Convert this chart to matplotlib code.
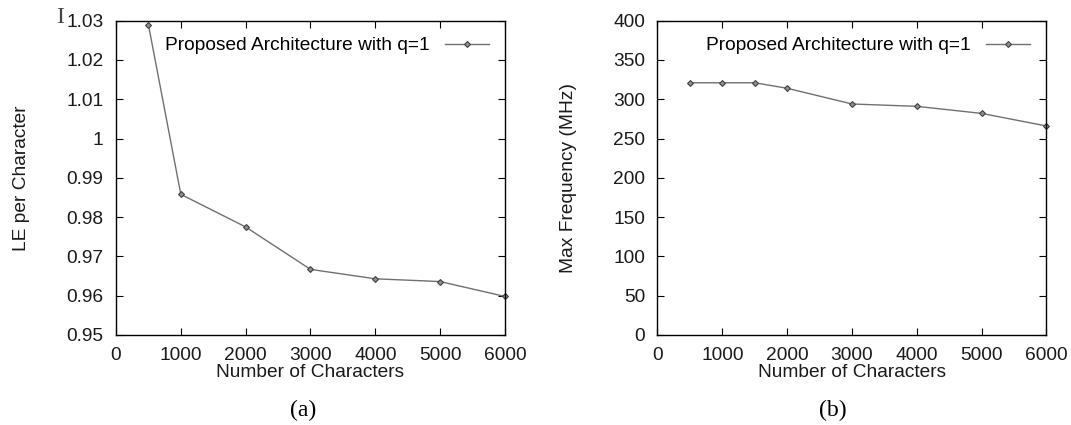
import matplotlib
matplotlib.use("Agg")
import matplotlib.pyplot as plt

# data
chars_a = [500, 1000, 2000, 3000, 4000, 5000, 6000]
le_per_char = [1.029, 0.9858, 0.9775, 0.9667, 0.9643, 0.9636, 0.9598]

chars_b = [500, 1000, 1500, 2000, 3000, 4000, 5000, 6000]
max_freq = [321, 321, 321, 314, 294, 291, 282, 266]

legend_label = "Proposed Architecture with q=1"
x_ticks = [0, 1000, 2000, 3000, 4000, 5000, 6000]
y_ticks_a = [0.95, 0.96, 0.97, 0.98, 0.99, 1.0, 1.01, 1.02, 1.03]
y_ticks_a_lbl = ["0.95", "0.96", "0.97", "0.98", "0.99", "1", "1.01", "1.02", "1.03"]
y_ticks_b = [0, 50, 100, 150, 200, 250, 300, 350, 400]

plt.rcParams["font.family"] = ["Liberation Sans", "DejaVu Sans"]
FS = 13.8
TXT = "#1a1a1a"

fig = plt.figure(figsize=(10.71, 4.25), dpi=100)
ax_a = fig.add_axes([0.1083, 0.2118, 0.3632, 0.7395])
ax_b = fig.add_axes([0.6139, 0.2118, 0.3632, 0.7395])


def style(ax):
    ax.tick_params(direction="in", top=True, right=True, length=5, width=0.8,
                   labelsize=FS, colors="black", labelcolor=TXT)
    ax.tick_params(axis="y", pad=9)
    ax.tick_params(axis="x", pad=9)
    for s in ax.spines.values():
        s.set_linewidth(1.0)
    ax.set_xlim(0, 6000)
    ax.set_xticks(x_ticks)
    ax.set_xlabel("Number of Characters", fontsize=FS, labelpad=0, color=TXT)
    ax.legend(loc="upper right", frameon=False, markerfirst=False,
              fontsize=FS, handlelength=2.3, handletextpad=0.8,
              borderaxespad=0.45)


ax_a.plot(chars_a, le_per_char, color="#707070", lw=1.0, marker="D",
          markersize=3, markerfacecolor="#909090", markeredgecolor="#404040",
          markeredgewidth=0.8, label=legend_label, clip_on=False)
ax_a.set_ylim(0.95, 1.03)
ax_a.set_yticks(y_ticks_a)
ax_a.set_yticklabels(y_ticks_a_lbl)
ax_a.set_ylabel("LE per Character", fontsize=FS, labelpad=26, color=TXT)
style(ax_a)

ax_b.plot(chars_b, max_freq, color="#707070", lw=1.0, marker="D",
          markersize=3, markerfacecolor="#909090", markeredgecolor="#404040",
          markeredgewidth=0.8, label=legend_label, clip_on=False)
ax_b.set_ylim(0, 400)
ax_b.set_yticks(y_ticks_b)
ax_b.set_ylabel("Max Frequency (MHz)", fontsize=FS, labelpad=26, color=TXT)
style(ax_b)

fig.text(0.283, 0.022, "(a)", fontsize=17, family="Liberation Serif", ha="center")
fig.text(0.778, 0.022, "(b)", fontsize=17, family="Liberation Serif", ha="center")
fig.text(0.056, 0.958, "I", fontsize=17, family="Liberation Serif", ha="center",
         va="center", color="#444444")

fig.savefig("out.png", dpi=100)
